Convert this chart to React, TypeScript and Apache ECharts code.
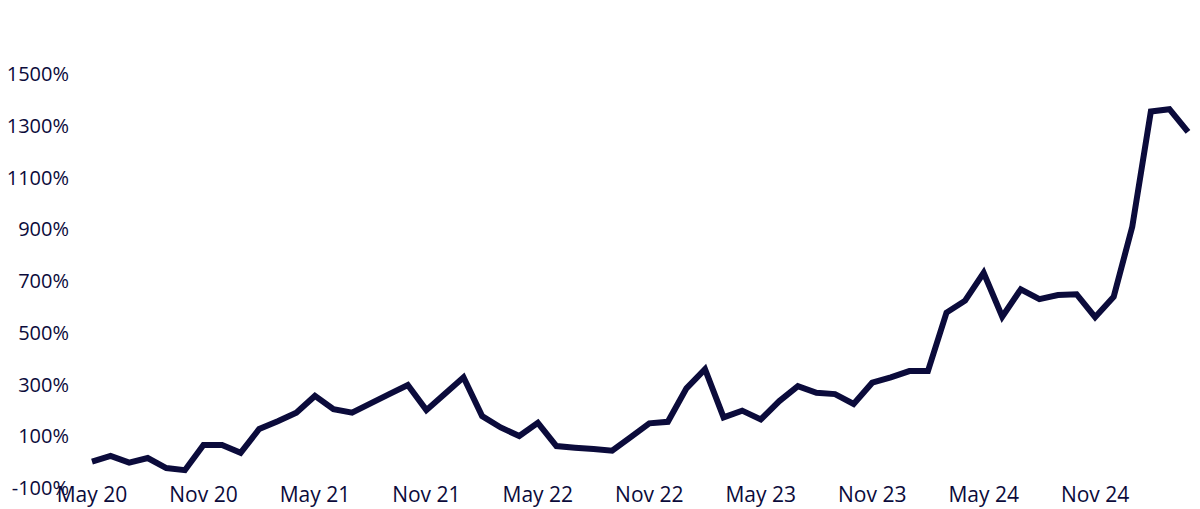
import React, { useEffect, useRef } from "react";
import * as echarts from "echarts";

const months: string[] = [
  "May 20", "Jun 20", "Jul 20", "Aug 20", "Sep 20", "Oct 20", "Nov 20", "Dec 20",
  "Jan 21", "Feb 21", "Mar 21", "Apr 21", "May 21", "Jun 21", "Jul 21", "Aug 21",
  "Sep 21", "Oct 21", "Nov 21", "Dec 21", "Jan 22", "Feb 22", "Mar 22", "Apr 22",
  "May 22", "Jun 22", "Jul 22", "Aug 22", "Sep 22", "Oct 22", "Nov 22", "Dec 22",
  "Jan 23", "Feb 23", "Mar 23", "Apr 23", "May 23", "Jun 23", "Jul 23", "Aug 23",
  "Sep 23", "Oct 23", "Nov 23", "Dec 23", "Jan 24", "Feb 24", "Mar 24", "Apr 24",
  "May 24", "Jun 24", "Jul 24", "Aug 24", "Sep 24", "Oct 24", "Nov 24", "Dec 24",
  "Jan 25", "Feb 25", "Mar 25", "Apr 25",
];

const returns: number[] = [
  0, 22, -4, 14, -25, -33, 64, 64,
  34, 126, 156, 189, 254, 203, 189, 225,
  261, 296, 199, 262, 326, 176, 132, 99,
  150, 60, 54, 49, 42, 95, 148, 154,
  283, 357, 171, 197, 163, 234, 292, 266,
  261, 223, 305, 326, 350, 350, 576, 622,
  730, 560, 666, 628, 644, 647, 558, 637,
  908, 1353, 1362, 1274,
];

const yMin = -100;
const yMax = 1500;
const yStep = 200;

const ink = "#0b0b3b";
const font = "'Open Sans', sans-serif";

export default function App() {
  const ref = useRef<HTMLDivElement>(null);
  useEffect(() => {
    document.body.style.margin = "0";
    if (!ref.current) return;
    const chart = echarts.init(ref.current, undefined, { renderer: "svg" });
    chart.setOption({
      animation: false,
      backgroundColor: "#ffffff",
      grid: { left: 92, right: 12, top: 73.5, bottom: 21.5, containLabel: false },
      xAxis: {
        type: "category",
        data: months,
        boundaryGap: false,
        axisLine: { show: false },
        axisTick: { show: false },
        splitLine: { show: false },
        axisLabel: {
          interval: 5,
          margin: -4,
          color: ink,
          fontFamily: font,
          fontSize: 21,
        },
      },
      yAxis: {
        type: "value",
        min: yMin,
        max: yMax,
        interval: yStep,
        axisLine: { show: false },
        axisTick: { show: false },
        splitLine: { show: false },
        axisLabel: {
          margin: 23,
          color: ink,
          fontFamily: font,
          fontSize: 20,
          formatter: (v: number) => `${v}%`,
        },
      },
      series: [
        {
          type: "line",
          data: returns,
          showSymbol: false,
          symbol: "none",
          lineStyle: { color: ink, width: 6, join: "miter" },
        },
      ],
    });
    return () => chart.dispose();
  }, []);
  return <div ref={ref} style={{ width: 1200, height: 509 }} />;
}
